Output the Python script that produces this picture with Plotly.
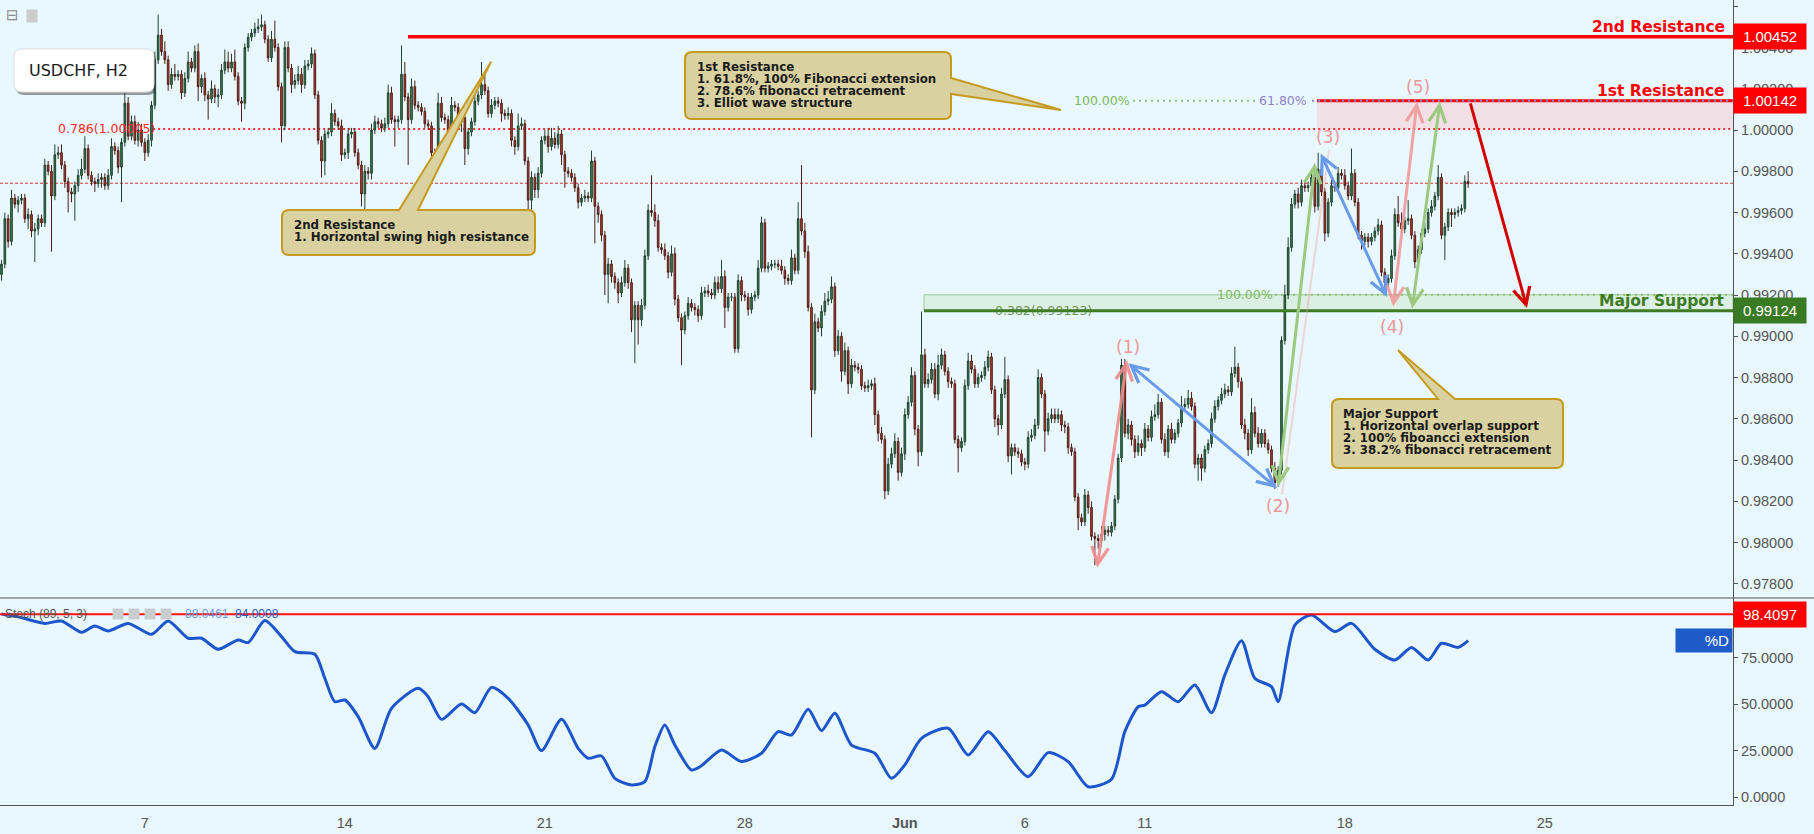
import numpy as np
import plotly.graph_objects as go

# ---------------- data ----------------
FIRST_BAR_DAY = "2018-05-01"      # first visible H2 bar opens 10:00
FIRST_BAR_HOUR = 10
BAR_HOURS = 2
FIRST_OPEN = 9930                 # price in pips (0.0001)

close_pips = [
    9935, 9957, 9946, 9967, 9964, 9966, 9967, 9957, 9959, 9951, 9952, 9957, 9955, 9983, 9980, 9968, 9988, 9989, 9983, 9975,
    9970, 9969, 9973, 9978, 9981, 9991, 9978, 9975, 9974, 9976, 9977, 9973, 9978, 9992, 9990, 9982, 9994, 10013, 9997, 10004,
    9995, 10000, 9994, 9989, 9995, 10012, 10034, 10046, 10038, 10034, 10022, 10027, 10026, 10027, 10018, 10025, 10033, 10030, 10038, 10021,
    10025, 10017, 10015, 10020, 10016, 10017, 10029, 10033, 10030, 10033, 10026, 10014, 10013, 10040, 10045, 10047, 10049, 10050, 10051, 10044,
    10035, 10044, 10040, 10021, 10002, 10040, 10030, 10022, 10024, 10027, 10022, 10031, 10032, 10037, 10017, 9995, 9985, 9998, 9999, 10008,
    10004, 10002, 9988, 9989, 9998, 9999, 9989, 9983, 9969, 9980, 9979,
    10000, 10004, 10003, 10001, 10003, 10018, 10005, 10004, 10005, 10027, 10016, 10005, 10021, 10012, 10011, 10009, 10003, 10002, 9989, 9988,
    10013, 10006, 10005, 9998, 10012, 10011, 10004, 10006, 9991, 9999, 10004, 10014, 10017, 10022, 10019, 10008, 10012, 10014, 10013, 10008,
    10007, 10008, 9995, 9992, 10002, 10003, 9985, 9966, 9977, 9971, 9979, 9995, 9997, 9992, 9996, 9993, 9998, 9988, 9980, 9979,
    9977, 9972, 9965, 9967, 9968, 9967, 9985, 9963, 9959, 9949, 9930, 9935, 9929, 9926, 9921, 9926, 9933, 9926, 9908, 9915,
    9908, 9915, 9939, 9961, 9960, 9956, 9943, 9942, 9939, 9931, 9940, 9918, 9909, 9903, 9910, 9916, 9914, 9913, 9910, 9921,
    9922, 9921, 9920, 9926, 9923, 9929, 9914, 9919, 9919, 9894, 9927,
    9920, 9919, 9913, 9919, 9920, 9933, 9955, 9933, 9934, 9935, 9935, 9934, 9932, 9928, 9927, 9938, 9932, 9957, 9951, 9941,
    9914, 9874, 9907, 9904, 9912, 9917, 9918, 9924, 9893, 9900, 9883, 9893, 9877, 9886, 9885, 9884, 9876, 9875, 9876, 9877,
    9862, 9853, 9850, 9825, 9838, 9843, 9849, 9834, 9843, 9862, 9868, 9881, 9855, 9844, 9891, 9877, 9879, 9884, 9872, 9886,
    9891, 9883, 9878, 9877, 9850, 9846, 9849, 9876, 9888, 9884, 9877, 9880, 9881, 9885, 9890, 9874, 9860, 9857, 9872, 9879,
    9842, 9846, 9844, 9843, 9839, 9838, 9851, 9852, 9857, 9880, 9872, 9854, 9860, 9862, 9860, 9862, 9857, 9856, 9846, 9844,
    9822, 9812, 9810, 9823, 9817, 9803, 9802, 9801, 9804, 9806, 9805,
    9808, 9821, 9841, 9886, 9853, 9857, 9850, 9844, 9848, 9846, 9855, 9851, 9861, 9862, 9868, 9850, 9844, 9855, 9850, 9853,
    9858, 9866, 9867, 9870, 9866, 9838, 9841, 9836, 9845, 9848, 9860, 9866, 9869, 9872, 9874, 9873, 9882, 9885, 9878, 9857,
    9853, 9845, 9863, 9853, 9848, 9853, 9848, 9845, 9836, 9829, 9835, 9898, 9920, 9943, 9964, 9969, 9965, 9973, 9972, 9973,
    9977, 9963, 9981, 9970, 9950, 9965, 9973, 9972, 9979, 9978, 9973, 9968, 9979, 9965, 9949, 9946, 9948, 9946, 9948, 9951,
    9954, 9931, 9926, 9928, 9939, 9959, 9955, 9952, 9956, 9957, 9949, 9936, 9942, 9950, 9952, 9960, 9963, 9968, 9977, 9949,
    9953, 9960, 9959, 9960, 9961, 9962, 9975, 9974,
]

upper_wick = [
    2, 3, 2, 4, 2, 2, 2, 2, 3, 2, 3, 2, 2, 3, 2, 3, 5, 3, 4, 2,
    2, 2, 2, 3, 5, 6, 2, 2, 2, 3, 2, 2, 3, 4, 2, 2, 2, 5, 3, 3,
    3, 4, 3, 2, 3, 2, 4, 10, 3, 5, 2, 3, 5, 2, 2, 3, 5, 2, 3, 4,
    2, 3, 2, 4, 2, 3, 3, 6, 5, 4, 6, 2, 2, 2, 2, 2, 3, 4, 5, 2,
    2, 4, 9, 2, 2, 3, 3, 2, 3, 4, 3, 3, 2, 3, 2, 2, 2, 2, 2, 5,
    2, 2, 3, 2, 3, 2, 2, 2, 2, 3, 2,
    3, 3, 2, 2, 3, 4, 3, 2, 2, 14, 6, 2, 4, 3, 2, 2, 2, 2, 2, 2,
    5, 3, 2, 2, 4, 2, 2, 2, 2, 2, 2, 3, 2, 11, 5, 2, 3, 2, 2, 2,
    2, 3, 2, 2, 6, 3, 2, 2, 3, 2, 3, 2, 3, 4, 5, 3, 4, 2, 2, 2,
    2, 2, 2, 2, 3, 2, 5, 2, 2, 2, 2, 3, 2, 2, 2, 3, 4, 2, 2, 2,
    2, 3, 3, 3, 17, 4, 3, 2, 3, 2, 4, 3, 2, 2, 2, 3, 2, 2, 2, 3,
    2, 3, 2, 3, 3, 8, 3, 2, 2, 2, 3,
    2, 2, 2, 2, 2, 4, 3, 2, 2, 2, 2, 2, 3, 2, 2, 4, 2, 8, 26, 4,
    3, 2, 4, 2, 3, 4, 4, 5, 2, 3, 2, 4, 2, 3, 2, 2, 2, 2, 3, 2,
    3, 2, 3, 2, 3, 3, 4, 2, 3, 3, 3, 4, 2, 2, 21, 3, 3, 3, 3, 5,
    3, 2, 2, 2, 2, 2, 2, 3, 4, 3, 2, 2, 2, 3, 3, 2, 2, 2, 3, 11,
    2, 2, 2, 2, 2, 2, 3, 3, 3, 4, 2, 2, 3, 3, 3, 3, 2, 2, 2, 2,
    2, 2, 2, 3, 2, 3, 2, 2, 4, 2, 2,
    2, 2, 2, 3, 3, 3, 2, 2, 4, 2, 3, 2, 3, 5, 4, 2, 3, 2, 3, 2,
    2, 5, 3, 4, 3, 2, 2, 2, 2, 2, 3, 3, 2, 3, 3, 2, 3, 10, 2, 2,
    3, 2, 7, 3, 3, 2, 2, 2, 2, 3, 2, 2, 5, 5, 3, 2, 3, 3, 2, 2,
    2, 3, 8, 4, 2, 2, 3, 2, 3, 2, 3, 2, 12, 2, 2, 2, 2, 2, 2, 2,
    3, 2, 2, 2, 3, 3, 9, 5, 2, 9, 2, 2, 2, 2, 3, 2, 3, 2, 6, 2,
    2, 2, 2, 2, 2, 2, 3, 5,
]

lower_wick = [
    3, 2, 3, 2, 2, 4, 2, 2, 5, 3, 15, 3, 2, 2, 2, 27, 2, 2, 2, 3,
    10, 4, 13, 3, 2, 2, 2, 2, 4, 2, 4, 2, 2, 2, 2, 3, 17, 2, 2, 2,
    2, 3, 2, 4, 2, 3, 2, 2, 2, 2, 3, 2, 2, 2, 3, 2, 2, 2, 2, 7,
    3, 3, 10, 2, 3, 5, 2, 2, 2, 2, 2, 2, 9, 3, 2, 2, 2, 2, 2, 2,
    2, 2, 2, 2, 8, 2, 2, 4, 2, 2, 4, 2, 2, 2, 2, 2, 8, 7, 2, 2,
    2, 2, 3, 2, 3, 2, 2, 2, 6, 12, 3,
    3, 2, 2, 2, 2, 2, 2, 12, 3, 2, 2, 22, 2, 2, 2, 2, 2, 2, 6, 4,
    2, 2, 2, 5, 2, 2, 2, 5, 8, 3, 2, 2, 2, 2, 2, 2, 2, 2, 2, 4,
    2, 2, 3, 4, 2, 2, 2, 16, 8, 4, 4, 2, 2, 3, 2, 2, 2, 5, 8, 2,
    2, 2, 3, 2, 2, 2, 2, 18, 4, 3, 10, 14, 3, 3, 5, 2, 2, 3, 6, 21,
    12, 3, 2, 2, 2, 3, 2, 2, 2, 3, 2, 3, 2, 17, 2, 2, 2, 3, 3, 2,
    2, 2, 2, 2, 2, 2, 10, 2, 2, 2, 2,
    3, 2, 3, 2, 2, 2, 2, 2, 2, 2, 2, 2, 2, 3, 2, 2, 2, 2, 2, 3,
    2, 23, 2, 2, 4, 2, 2, 2, 3, 2, 5, 2, 5, 2, 2, 2, 2, 2, 2, 2,
    5, 4, 2, 4, 2, 2, 2, 4, 2, 3, 2, 2, 3, 7, 2, 2, 2, 2, 2, 3,
    2, 2, 3, 2, 2, 12, 2, 2, 2, 2, 2, 2, 2, 2, 2, 2, 4, 5, 2, 2,
    3, 9, 2, 2, 2, 3, 2, 2, 2, 2, 2, 10, 2, 2, 2, 2, 3, 3, 3, 2,
    2, 6, 2, 2, 3, 2, 13, 4, 3, 3, 2,
    2, 2, 2, 2, 2, 3, 3, 3, 2, 4, 2, 2, 2, 2, 2, 2, 2, 3, 2, 2,
    2, 2, 2, 2, 2, 2, 8, 6, 2, 2, 2, 2, 2, 2, 2, 2, 2, 2, 3, 2,
    3, 3, 2, 2, 2, 2, 2, 2, 2, 3, 2, 2, 2, 2, 2, 2, 3, 2, 2, 2,
    2, 3, 2, 2, 4, 2, 2, 2, 2, 2, 2, 2, 2, 2, 2, 4, 2, 3, 2, 2,
    2, 2, 3, 2, 2, 2, 2, 2, 2, 2, 2, 3, 2, 2, 2, 2, 2, 2, 2, 2,
    12, 2, 6, 2, 2, 2, 2, 2,
]

tick_dates = ["2018-05-07", "2018-05-14", "2018-05-21", "2018-05-28", "2018-06-01",
              "2018-06-06", "2018-06-11", "2018-06-18", "2018-06-25"]
tick_text = ["7", "14", "21", "28", "<b>Jun</b>", "6", "11", "18", "25"]

# Stochastic %D (89,5,3) read at bar positions
stoch_bar = [0, 5, 13, 18, 24, 28, 32, 38, 45, 50, 56, 60, 65, 71, 74, 79, 84, 88, 94, 97,
             100, 103, 107, 112, 117, 125, 128, 132, 138, 142, 147, 152, 158, 162, 168, 173, 176, 180, 184, 189,
             193, 196, 199, 202, 207, 210, 216, 222, 228, 233, 237, 242, 246, 250, 255, 262, 267, 271, 276, 284,
             290, 296, 301, 308, 314, 320, 326, 333, 337, 341, 343, 348, 353, 358, 363, 367, 372, 376, 381, 383,
             388, 393, 400, 405, 412, 418, 423, 428, 432, 437, 440]
stoch_d = [98.5, 97, 93.5, 94.8, 88.7, 92.1, 89.4, 93.5, 87.6, 94.8, 85.5, 85.5, 79.6, 84.6, 83.2, 95, 86.4, 78.3, 76.9, 64,
           51.4, 52.3, 43.4, 26.3, 47.8, 58.6, 54.1, 41.9, 50.2, 45.5, 59.1, 53.2, 38.9, 25.1, 41.9, 26.3, 21, 22.2, 10.2, 6.6,
           8.4, 27.2, 38.9, 28.1, 14.7, 17, 25.4, 19.2, 23.7, 35.3, 33.5, 47.3, 35.8, 45.2, 28.1, 23.7, 10.2, 17.4, 31.7, 37.1,
           22.8, 35.3, 25.1, 11.1, 24, 19.2, 5.7, 9.7, 35.3, 48.7, 49.6, 56.8, 51.4, 60.4, 45.5, 65.8, 84.2, 64, 59.5, 51.4,
           92.6, 98, 89.1, 93.5, 79.6, 73.8, 80.6, 73.8, 82.8, 80.6, 84.2]

# key levels
level_res2 = 1.00452
level_res1 = 1.00142
level_sup = 0.99124
fib_786 = 1.00005
fib_ext_low = 0.99201
last_price = 0.99742
stoch_level = 98.4097
stoch_k_last = "88.0461"
stoch_d_last = "84.0008"
stoch_d_box = 84.3

# where drawings start (bar index)
res2_start = 121.95
zone1_start = 394.65
sup_start = 276.75
fib786_start = 45.5
ext_top_start, ext_top_end = 339.45, 376.05
ext61_start = 393.15
ext_low_start = 382.05

# fib labels
fib_text = ["0.786(1.00005)", "0.382(0.99123)", "100.00%", "61.80%", "100.00%"]
fib_bar = [16.65, 297.75, 321.45, 376.95, 364.35]
fib_price = [1.00005, 0.99124, 1.00142, 1.00142, 0.99201]
fib_color = ["#FF2A2A", "rgba(70,130,40,0.8)", "#7DB863", "#8E83C9", "#7DB863"]

# Elliott wave labels
wave_text = ["(1)", "(2)", "(3)", "(4)", "(5)"]
wave_bar = [337.95, 382.95, 397.95, 417.15, 424.95]
wave_price = [0.98948, 0.98177, 0.99966, 0.99045, 1.00208]

# wave arrows
arrow_x0 = [328.65, 337.65, 382.95, 395.55, 417.45, 423.15, 440.55]
arrow_y0 = [0.97872, 0.98875, 0.98264, 0.99893, 0.99137, 0.99127, 1.00136]
arrow_x1 = [337.65, 382.65, 394.05, 415.65, 424.65, 431.55, 457.65]
arrow_y1 = [0.98885, 0.98264, 0.99840, 0.99190, 1.00136, 1.00136, 0.99137]
arrow_color = ["rgba(242,140,140,0.9)", "#6A9BEA", "#9CC97F", "#6A9BEA",
               "rgba(242,150,150,0.85)", "#9CC97F", "#D40000"]
arrow_both = [True, True, True, True, True, True, False]
faint_line = [384.15, 0.98231, 398.25, 0.99903]

# callouts
res2_box = (84.15, 160.05, 0.99612, 0.99394)
res2_wedge = ("top", 119.25, 124.95, 146.85, 1.00330)
res2_text_at = (87.45, 0.99539)
res2_lines = ["2nd Resistance", "1. Horizontal swing high resistance"]

res1_box = (205.05, 284.85, 1.00378, 1.00053)
res1_wedge = ("right", 1.00252, 1.00175, 317.85, 1.00097)
res1_text_at = (208.35, 1.00305)
res1_lines = ["1st Resistance", "1. 61.8%, 100% Fibonacci extension",
              "2. 78.6% fibonacci retracement", "3. Elliot wave structure"]

sup_box = (399.15, 468.45, 0.98696, 0.98361)
sup_wedge = ("top", 430.95, 436.05, 418.95, 0.98933)
sup_text_at = (402.15, 0.98623)
sup_lines = ["Major Support", "1. Horizontal overlap support",
             "2. 100% fiboancci extension", "3. 38.2% fibonacci retracement"]

title_box = (3.75, 45.75, 1.00393, 1.00184)
title_at = (22.95, 1.00289)
title_text = "USDCHF, H2"

# ---------------- layout constants ----------------
W, H = 1814, 834
M_L, M_R, M_T, M_B = 0, 81, 0, 29
PLOT_W = W - M_L - M_R
PLOT_H = H - M_T - M_B
PRICE_H = 598
SPLIT = 1 - PRICE_H / PLOT_H
X_RANGE = [-0.45, 519.45]
PRICE_RANGE = [0.977312, 1.006302]
STOCH_RANGE = [-4.14, 107.15]
PX_X = PLOT_W / (X_RANGE[1] - X_RANGE[0])
PX_Y = PRICE_H / (PRICE_RANGE[1] - PRICE_RANGE[0])

BG = "#E9F8FE"
AXIS_C = "#555555"
TAN = "#D9D1A0"
GOLD = "#C69A1E"

# ---------------- build candles ----------------
n = min(len(close_pips), len(upper_wick), len(lower_wick))
c = np.array(close_pips[:n], dtype=float) / 10000
o = np.concatenate([[FIRST_OPEN / 10000], c[:-1]])
hi = np.maximum(o, c) + np.array(upper_wick[:n]) / 10000
lo = np.minimum(o, c) - np.array(lower_wick[:n]) / 10000
bar_idx = np.arange(n)


def bar_of_date(d):
    return int(np.busday_count(FIRST_BAR_DAY, d)) * (24 // BAR_HOURS) - FIRST_BAR_HOUR / BAR_HOURS


tick_vals = [bar_of_date(d) for d in tick_dates]

fig = go.Figure()
fig.add_trace(go.Candlestick(
    x=bar_idx, open=o, high=hi, low=lo, close=c, xaxis="x", yaxis="y",
    increasing=dict(fillcolor="#35875A", line=dict(color="#22402D", width=1)),
    decreasing=dict(fillcolor="#D23A2B", line=dict(color="#4A1F18", width=1)),
    whiskerwidth=0, showlegend=False, hoverinfo="skip"))

fig.add_trace(go.Scatter(
    x=stoch_bar, y=stoch_d, mode="lines", xaxis="x2", yaxis="y2",
    line=dict(color="#1C55CC", width=3, shape="spline", smoothing=0.7),
    showlegend=False, hoverinfo="skip"))

shapes = []
annotations = []
XE = X_RANGE[1]


def hline(x0, x1, y, color, width, dash="solid", layer="above", yref="y", xref="x"):
    shapes.append(dict(type="line", xref=xref, yref=yref, x0=x0, x1=x1, y0=y, y1=y,
                       line=dict(color=color, width=width, dash=dash), layer=layer))


# zones
shapes.append(dict(type="rect", xref="x", yref="y", x0=zone1_start, x1=XE, y0=fib_786, y1=level_res1,
                   fillcolor="#F1E1E6", line=dict(width=0), layer="below"))
shapes.append(dict(type="rect", xref="x", yref="y", x0=sup_start, x1=XE, y0=level_sup, y1=fib_ext_low,
                   fillcolor="#DCEFE4", line=dict(color="#9ACB90", width=1), layer="below"))

# dotted / dashed guide lines
hline(fib786_start, XE, fib_786, "#FF3030", 2, "2px,3px", "below")
hline(X_RANGE[0], XE, last_price, "#E0352B", 1, "3px,2px", "below")
hline(ext_top_start, ext_top_end, level_res1, "#8DC470", 2, "2px,4px", "below")
hline(ext_low_start, XE, fib_ext_low, "#8DC470", 2, "2px,4px", "below")

# solid levels
hline(res2_start, XE, level_res2, "#FF0000", 3.5)
hline(zone1_start, XE, level_res1, "#FF0000", 3)
hline(ext61_start, XE, level_res1, "#8E83C9", 2, "2px,4px")
hline(sup_start, XE, level_sup, "#3E7B23", 3)
hline(X_RANGE[0], XE, stoch_level, "#FF1010", 2, yref="y2", xref="x2")

# panel separator
shapes.append(dict(type="line", xref="paper", yref="paper", x0=0, x1=W / PLOT_W, y0=SPLIT, y1=SPLIT,
                   line=dict(color=AXIS_C, width=1)))

# faint pink wave line
shapes.append(dict(type="line", xref="x", yref="y", x0=faint_line[0], y0=faint_line[1],
                   x1=faint_line[2], y1=faint_line[3], line=dict(color="rgba(242,150,150,0.35)", width=2)))


def box_path(box, r=7, wedge=None, dx=0.0, dy=0.0):
    x0, x1, yt, yb = box
    x0 += dx / PX_X; x1 += dx / PX_X; yt += dy / PX_Y; yb += dy / PX_Y
    rx, ry = r / PX_X, r / PX_Y
    p = [f"M{x0 + rx},{yt}"]
    if wedge and wedge[0] == "top":
        _, b0, b1, tx, ty = wedge
        p += [f"L{b0},{yt}", f"L{tx},{ty}", f"L{b1},{yt}"]
    p += [f"L{x1 - rx},{yt}", f"Q{x1},{yt} {x1},{yt - ry}"]
    if wedge and wedge[0] == "right":
        _, b0, b1, tx, ty = wedge
        p += [f"L{x1},{b0}", f"L{tx},{ty}", f"L{x1},{b1}"]
    p += [f"L{x1},{yb + ry}", f"Q{x1},{yb} {x1 - rx},{yb}",
          f"L{x0 + rx},{yb}", f"Q{x0},{yb} {x0},{yb + ry}",
          f"L{x0},{yt - ry}", f"Q{x0},{yt} {x0 + rx},{yt}", "Z"]
    return " ".join(p)


for box, wedge in [(res2_box, res2_wedge), (res1_box, res1_wedge), (sup_box, sup_wedge)]:
    shapes.append(dict(type="path", xref="x", yref="y", path=box_path(box, 7, wedge),
                       fillcolor=TAN, line=dict(color=GOLD, width=2), layer="above"))

# title box with shadow
shapes.append(dict(type="path", xref="x", yref="y", path=box_path(title_box, 8, None, 2, -3),
                   fillcolor="rgba(40,40,40,0.45)", line=dict(width=0), layer="above"))
shapes.append(dict(type="path", xref="x", yref="y", path=box_path(title_box, 8),
                   fillcolor="#FFFFFF", line=dict(color="#DDDDDD", width=1), layer="above"))

annotations.append(dict(x=title_at[0], y=title_at[1], xref="x", yref="y", text=title_text, showarrow=False,
                        font=dict(family="DejaVu Sans", size=16, color="#1A1A1A")))

# callout texts
for (ax_, ay_), lines in [(res2_text_at, res2_lines), (res1_text_at, res1_lines), (sup_text_at, sup_lines)]:
    for k, line in enumerate(lines):
        annotations.append(dict(x=ax_, y=ay_, xref="x", yref="y", text=f"<b>{line}</b>", showarrow=False,
                                xanchor="left", yanchor="middle", yshift=-12 * k, borderpad=0,
                                font=dict(family="DejaVu Sans", size=11.8, color="#1A1A1A")))

# fib labels
for t, xb, yp, col in zip(fib_text, fib_bar, fib_price, fib_color):
    annotations.append(dict(x=xb, y=yp, xref="x", yref="y", text=t, showarrow=False, xanchor="left",
                            yanchor="middle", borderpad=0, font=dict(family="DejaVu Sans", size=12.5, color=col)))

# wave labels
for t, xb, yp in zip(wave_text, wave_bar, wave_price):
    annotations.append(dict(x=xb, y=yp, xref="x", yref="y", text=t, showarrow=False,
                            font=dict(family="DejaVu Sans", size=17, color="#EE9696")))

# wave arrows
for x0, y0, x1, y1, col, both in zip(arrow_x0, arrow_y0, arrow_x1, arrow_y1, arrow_color, arrow_both):
    annotations.append(dict(x=x1, y=y1, ax=x0, ay=y0, xref="x", yref="y", axref="x", ayref="y", text="",
                            showarrow=True, arrowhead=5, startarrowhead=5,
                            arrowside="end+start" if both else "end",
                            arrowwidth=3, arrowsize=1.1, startarrowsize=1.1, arrowcolor=col, standoff=0,
                            startstandoff=0))

# level names on the right
for txt, lvl, col in [("2nd Resistance", level_res2, "#FF0000"), ("1st Resistance", level_res1, "#FF0000"),
                      ("Major Support", level_sup, "#3E7B23")]:
    annotations.append(dict(x=1, y=lvl, xref="paper", yref="y", text=f"<b>{txt}</b>", showarrow=False,
                            xanchor="right", yanchor="bottom", xshift=-7, yshift=0, borderpad=0,
                            font=dict(family="DejaVu Sans", size=15.5, color=col)))

# axis value boxes
for val, yref, bg, fmt in [(level_res2, "y", "#FF0000", "{:.5f}"), (level_res1, "y", "#FF0000", "{:.5f}"),
                           (level_sup, "y", "#3A7A22", "{:.5f}"), (stoch_level, "y2", "#FF0000", "{:.4f}")]:
    annotations.append(dict(x=1, y=val, xref="paper", yref=yref, text=fmt.format(val), showarrow=False,
                            xanchor="left", yanchor="middle", bgcolor=bg, borderpad=4, width=64, align="center",
                            font=dict(family="Liberation Sans", size=15, color="#FFFFFF")))

annotations.append(dict(x=1, y=stoch_d_box, xref="paper", yref="y2", text="%D", showarrow=False,
                        xanchor="right", yanchor="middle", bgcolor="#1E5BC8", borderpad=3, width=50, align="right",
                        font=dict(family="Liberation Sans", size=15, color="#FFFFFF")))

# stoch legend
annotations.append(dict(x=0, y=stoch_level, xref="paper", yref="y2", text="Stoch (89, 5, 3)", showarrow=False,
                        xanchor="left", yanchor="middle", xshift=4, borderpad=0,
                        font=dict(family="Liberation Sans", size=12, color="#555555")))
for sx in [112, 128, 144, 160]:
    annotations.append(dict(x=0, y=stoch_level, xref="paper", yref="y2", text=" ", showarrow=False,
                            xanchor="left", yanchor="middle", xshift=sx, width=10, height=10, borderpad=0,
                            bgcolor="#C9CDD0", font=dict(size=8)))
annotations.append(dict(x=0, y=stoch_level, xref="paper", yref="y2", text=stoch_k_last, showarrow=False,
                        xanchor="left", yanchor="middle", xshift=184, borderpad=0,
                        font=dict(family="Liberation Sans", size=12, color="#6C97DC")))
annotations.append(dict(x=0, y=stoch_level, xref="paper", yref="y2", text=stoch_d_last, showarrow=False,
                        xanchor="left", yanchor="middle", xshift=234, borderpad=0,
                        font=dict(family="Liberation Sans", size=12, color="#2A5CC8")))
annotations.append(dict(x=0, y=1, xref="paper", yref="paper", text="⊟", showarrow=False,
                        xanchor="left", yanchor="top", xshift=4, yshift=-4,
                        font=dict(family="DejaVu Sans", size=15, color="#8A8A8A")))
annotations.append(dict(x=0, y=1, xref="paper", yref="paper", text=" ", showarrow=False,
                        xanchor="left", yanchor="top", xshift=26, yshift=-9, width=10, height=12, borderpad=0,
                        bgcolor="#C9CDD0", font=dict(size=8)))

tickfont = dict(family="Liberation Sans", size=14.5, color=AXIS_C)
fig.update_layout(
    width=W, height=H, margin=dict(l=M_L, r=M_R, t=M_T, b=M_B),
    paper_bgcolor=BG, plot_bgcolor=BG, showlegend=False, hovermode=False,
    xaxis=dict(domain=[0, 1], anchor="y", range=X_RANGE, showticklabels=False, showgrid=False,
               zeroline=False, rangeslider=dict(visible=False), ticks=""),
    xaxis2=dict(domain=[0, 1], anchor="y2", range=X_RANGE, tickvals=tick_vals, ticktext=tick_text,
                showgrid=False, zeroline=False, showline=True, linecolor=AXIS_C, linewidth=1,
                ticks="outside", ticklen=5, tickcolor=BG, tickfont=tickfont),
    yaxis=dict(domain=[SPLIT, 1], anchor="x", side="right", range=PRICE_RANGE, tick0=0.978, dtick=0.002,
               tickformat=".5f", showgrid=False, zeroline=False, showline=True, linecolor=AXIS_C,
               ticks="outside", ticklen=4, tickcolor=AXIS_C, tickfont=tickfont),
    yaxis2=dict(domain=[0, SPLIT], anchor="x2", side="right", range=STOCH_RANGE, tick0=0, dtick=25,
                tickformat=".4f", showgrid=False, zeroline=False, showline=True, linecolor=AXIS_C,
                ticks="outside", ticklen=4, tickcolor=AXIS_C, tickfont=tickfont),
    shapes=shapes, annotations=annotations,
)

fig.write_html("out.html", config={"displayModeBar": False, "staticPlot": True},
               post_script="document.body.style.margin='0';document.body.style.overflow='hidden';")
